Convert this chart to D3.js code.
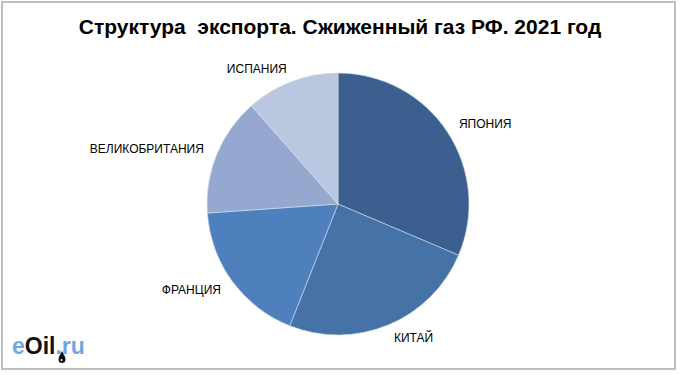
<!DOCTYPE html>
<html>
<head>
<meta charset="utf-8">
<script src="https://cdn.jsdelivr.net/npm/d3@7"></script>
<style>
  body { margin: 0; background: #fff; }
  svg { display: block; font-family: "Liberation Sans", Arial, sans-serif; }
</style>
</head>
<body>
<div id="chart"></div>
<script>
// Export structure, LNG, Russia 2021 (shares, %)
const countries = ['ЯПОНИЯ', 'КИТАЙ', 'ФРАНЦИЯ', 'ВЕЛИКОБРИТАНИЯ', 'ИСПАНИЯ'];
const shares = [31.4, 24.6, 17.9, 14.6, 11.5];
const colors = ['#3B5F8F', '#4573A8', '#4E80BD', '#95A9D0', '#BAC7E0'];
const title = 'Структура  экспорта. Сжиженный газ РФ. 2021 год';

const width = 680, height = 375;
const cx = 338, cy = 204, radius = 131;

const svg = d3.select('#chart').append('svg')
  .attr('width', width)
  .attr('height', height);

// chart frame
svg.append('rect')
  .attr('x', 2).attr('y', 2)
  .attr('width', 673).attr('height', 367)
  .attr('fill', '#fff')
  .attr('stroke', '#BFBFBF')
  .attr('stroke-width', 2);

svg.append('text')
  .attr('x', 340).attr('y', 34)
  .attr('text-anchor', 'middle')
  .style('white-space', 'pre')
  .style('font-size', '21px')
  .style('font-weight', 'bold')
  .text(title);

const data = countries.map((c, i) => ({ name: c, value: shares[i], color: colors[i] }));

const pie = d3.pie().value((d) => d.value).sort(null);
const arc = d3.arc().innerRadius(0).outerRadius(radius);
const labelArc = d3.arc().innerRadius(145).outerRadius(145);

const g = svg.append('g')
  .attr('transform', 'translate(' + cx + ',' + cy + ')');

const arcs = pie(data);

g.selectAll('path.slice')
  .data(arcs)
  .enter()
  .append('path')
  .attr('class', 'slice')
  .attr('d', arc)
  .attr('fill', (d) => d.data.color)
  .attr('stroke', '#D6DEEA')
  .attr('stroke-width', 0.6);

g.selectAll('text.label')
  .data(arcs)
  .enter()
  .append('text')
  .attr('class', 'label')
  .attr('transform', (d) => {
    const p = labelArc.centroid(d);
    return 'translate(' + p[0] + ',' + p[1] + ')';
  })
  .attr('dy', '0.35em')
  .attr('text-anchor', (d) => ((d.startAngle + d.endAngle) / 2 < Math.PI ? 'start' : 'end'))
  .style('font-size', '12px')
  .style('fill', '#000')
  .text((d) => d.data.name);

// eOil.ru logo
const logo = svg.append('text')
  .attr('x', 12).attr('y', 354)
  .style('font-size', '23px')
  .style('font-weight', 'bold');
logo.append('tspan').attr('fill', '#6FA8DC').text('e');
logo.append('tspan').attr('fill', '#111').text('Oil');
logo.append('tspan').attr('fill', '#6FA8DC').text('.ru');

svg.append('path')
  .attr('d', 'M62,351 C60,355 58.5,357 58.5,359.5 A3.5,3.5 0 0 0 65.5,359.5 C65.5,357 64,355 62,351 Z')
  .attr('fill', '#111');
svg.append('circle')
  .attr('cx', 61.5).attr('cy', 360).attr('r', 1)
  .attr('fill', '#fff');
</script>
</body>
</html>
